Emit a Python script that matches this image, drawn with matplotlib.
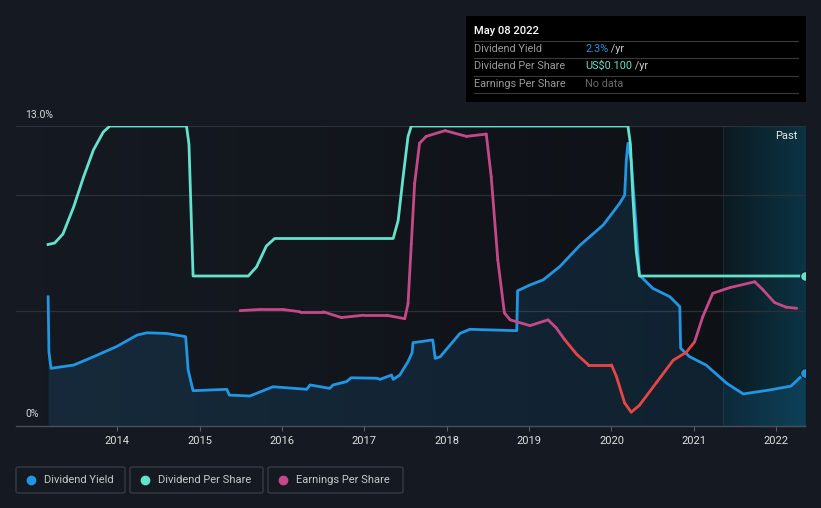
import numpy as np
import matplotlib
matplotlib.use("Agg")
import matplotlib.pyplot as plt
from matplotlib.collections import LineCollection
from matplotlib.patches import Rectangle, FancyBboxPatch
import matplotlib.transforms as mtransforms
import matplotlib.colors as mcolors

plt.rcParams['font.family'] = ['Roboto', 'DejaVu Sans']

# --- data ---
yield_years = [2013.16, 2013.17, 2013.195, 2013.47, 2013.71, 2013.99, 2014.24, 2014.36, 2014.60,
               2014.83, 2014.86, 2014.92, 2015.33, 2015.36, 2015.61, 2015.89, 2016.30, 2016.34,
               2016.58, 2016.62, 2016.78, 2016.84, 2017.15, 2017.19, 2017.33, 2017.35, 2017.43,
               2017.53, 2017.58, 2017.59, 2017.83, 2017.86, 2017.92, 2018.16, 2018.28, 2018.85,
               2018.86, 2019.01, 2019.17, 2019.37, 2019.62, 2019.90, 2020.10, 2020.16, 2020.18,
               2020.20, 2020.24, 2020.30, 2020.34, 2020.50, 2020.71, 2020.83, 2020.84, 2020.95,
               2021.15, 2021.40, 2021.60, 2021.92, 2022.18, 2022.35]
yield_pct = [5.6, 3.2, 2.50, 2.64, 3.0, 3.44, 3.94, 4.04, 4.01,
             3.87, 2.43, 1.53, 1.59, 1.34, 1.30, 1.70, 1.59, 1.78,
             1.63, 1.78, 1.92, 2.09, 2.07, 2.02, 2.21, 2.02, 2.21,
             2.79, 3.18, 3.61, 3.73, 2.93, 3.0, 4.01, 4.19, 4.13,
             5.86, 6.11, 6.33, 6.90, 7.84, 8.71, 9.65, 10.0, 11.5,
             12.25, 11.5, 8.64, 6.54, 5.97, 5.60, 5.17, 3.37, 3.0,
             2.64, 1.85, 1.39, 1.56, 1.73, 2.3]

dps_years = [2013.16, 2013.24, 2013.34, 2013.47, 2013.59, 2013.71, 2013.83, 2013.91, 2014.84,
             2014.87, 2014.92, 2015.59, 2015.69, 2015.81, 2015.91, 2017.35, 2017.41, 2017.47,
             2017.53, 2017.57, 2020.20, 2020.23, 2020.26, 2020.30, 2020.34, 2022.35]
dps = [0.121, 0.122, 0.128, 0.146, 0.166, 0.184, 0.196, 0.200, 0.200,
       0.188, 0.100, 0.100, 0.106, 0.120, 0.125, 0.125, 0.137, 0.166,
       0.193, 0.200, 0.200, 0.188, 0.153, 0.117, 0.100, 0.100]

eps_years = [2015.49, 2015.73, 2016.01, 2016.22, 2016.50, 2016.72, 2016.99, 2017.27, 2017.49,
             2017.53, 2017.57, 2017.61, 2017.67, 2017.75, 2017.98, 2018.24, 2018.48, 2018.54,
             2018.62, 2018.70, 2018.77, 2019.01, 2019.23, 2019.33, 2019.43, 2019.58, 2019.72,
             2020.00, 2020.06, 2020.16, 2020.24, 2020.34, 2020.55, 2020.75, 2020.91, 2021.01,
             2021.11, 2021.23, 2021.44, 2021.74, 2021.84, 2021.98, 2022.12, 2022.25]
eps = [0.100, 0.101, 0.101, 0.099, 0.099, 0.094, 0.096, 0.096, 0.093,
       0.106, 0.158, 0.210, 0.245, 0.251, 0.256, 0.251, 0.253, 0.216,
       0.144, 0.098, 0.092, 0.087, 0.092, 0.085, 0.075, 0.062, 0.053,
       0.053, 0.043, 0.020, 0.012, 0.018, 0.038, 0.057, 0.064, 0.073,
       0.095, 0.115, 0.120, 0.125, 0.118, 0.107, 0.103, 0.102]

year_ticks = list(range(2014, 2023))
eps_red_below = 0.074

# --- colours ---
BG = '#151a22'
BLUE = '#2196e3'
TEAL = '#64e2cc'
PINK = '#c44986'
RED = '#e84545'

W, H = 821, 508
fig = plt.figure(figsize=(W / 100, H / 100), dpi=100, facecolor=BG)

def fx(px):
    return px / W

def fy(py):
    return 1 - py / H

ax = fig.add_axes([fx(16), fy(426), fx(805) - fx(16), fy(126) - fy(426)])
ax.set_facecolor(BG)
xmin, xmax = 2012.77, 2022.35
past_start = 2021.35
ax.set_xlim(xmin, xmax)
ax.set_ylim(0, 13)

# background gradient and "past" band
c0 = np.array(mcolors.to_rgb('#151a22'))
c1 = np.array(mcolors.to_rgb('#0e1116'))
t = np.linspace(0, 1, 256)[None, :, None]
grad = c0 + (c1 - c0) * t
ax.imshow(grad, extent=(2013.1, past_start, 0, 13), aspect='auto', zorder=0, interpolation='bilinear')
p0 = np.array(mcolors.to_rgb('#0c1a21'))
p1 = np.array(mcolors.to_rgb('#0b3444'))
grad2 = p0 + (p1 - p0) * t
ax.imshow(grad2, extent=(past_start, xmax, 0, 13), aspect='auto', zorder=0, interpolation='bilinear')
ax.axvline(past_start, color='#1a2a33', lw=0.8, zorder=0.5)
ax.set_xlim(xmin, xmax)
ax.set_ylim(0, 13)

for g in (5, 10, 13):
    ax.axhline(g, color='#2c3139', lw=0.9, zorder=1)

for s in ('top', 'right', 'left'):
    ax.spines[s].set_visible(False)
ax.spines['bottom'].set_color('#4b5058')
ax.spines['bottom'].set_linewidth(1.0)
ax.set_yticks([])
ax.set_xticks(year_ticks)
ax.set_xticklabels([str(y) for y in year_ticks])
ax.tick_params(axis='x', colors='#5a5f66', length=3.5, width=0.8, pad=4,
               labelcolor='#e0e0e0', labelsize=8)

# dividend yield
ax.fill_between(yield_years, yield_pct, 0, color=BLUE, alpha=0.13, lw=0, zorder=2)
ax.plot(yield_years, yield_pct, color=BLUE, lw=2, zorder=3, solid_joinstyle='round')
ax.plot([yield_years[-1]], [yield_pct[-1]], 'o', color=BLUE, ms=7, mec=BG, mew=0.8, zorder=6)

# y labels
blend = mtransforms.blended_transform_factory(ax.transAxes, ax.transData)
ax.annotate('13.0%', xy=(0.012, 13), xycoords=blend, xytext=(0, 6), textcoords='offset pixels',
            color='#d8d8d8', fontsize=7.5, ha='left', va='bottom')
ax.annotate('0%', xy=(0.012, 0), xycoords=blend, xytext=(0, 7), textcoords='offset pixels',
            color='#d8d8d8', fontsize=7.5, ha='left', va='bottom')
ax.text(0.99, 12.55, 'Past', transform=blend, color='#e8e8e8', fontsize=8, ha='right', va='center')

# dividend per share
ax2 = ax.twinx()
ax2.set_ylim(0, 0.2)
ax2.axis('off')
ax2.plot(dps_years, dps, color=TEAL, lw=2, zorder=4, solid_joinstyle='round')
ax2.plot([dps_years[-1]], [dps[-1]], 'o', color=TEAL, ms=7, mec=BG, mew=0.8, zorder=6)

# earnings per share, red where low
ax3 = ax.twinx()
ax3.set_ylim(0, 0.26)
ax3.axis('off')
pts = np.column_stack([eps_years, eps])
segs = np.stack([pts[:-1], pts[1:]], axis=1)
mids = (np.array(eps[:-1]) + np.array(eps[1:])) / 2
cols = [RED if m < eps_red_below else PINK for m in mids]
lc = LineCollection(segs, colors=cols, linewidths=2, capstyle='round', joinstyle='round', zorder=3)
ax3.add_collection(lc)
ax3.set_xlim(xmin, xmax)

# tooltip box
fig.add_artist(Rectangle((fx(466), fy(102)), fx(806) - fx(466), fy(16) - fy(102),
                         transform=fig.transFigure, facecolor='#000000', edgecolor='none'))
fig.text(fx(474), fy(31), 'May 08 2022', color='#ffffff', fontsize=8, va='center', weight='medium')
for ly in (41, 58, 76, 93):
    fig.add_artist(plt.Line2D([fx(474), fx(798)], [fy(ly), fy(ly)], transform=fig.transFigure,
                              color='#3a3a3a', lw=0.8))
rows = [('Dividend Yield', '2.3%', BLUE, ' /yr', 49),
        ('Dividend Per Share', 'US$0.100', TEAL, ' /yr', 66),
        ('Earnings Per Share', 'No data', '#6a6a6a', '', 84)]
for label, val, col, unit, ry in rows:
    fig.text(fx(474), fy(ry), label, color='#9a9a9a', fontsize=7.8, va='center')
    tv = fig.text(fx(585), fy(ry), val, color=col, fontsize=7.8, va='center')
    if unit:
        fig.canvas.draw()
        bb = tv.get_window_extent()
        fig.text(bb.x1 / W, fy(ry), unit, color='#c8c8c8', fontsize=7.8, va='center')

# legend boxes
legend_items = [('Dividend Yield', BLUE, 16, 125), ('Dividend Per Share', TEAL, 130, 263),
                ('Earnings Per Share', PINK, 268, 403)]
for name, col, x0, x1 in legend_items:
    fig.add_artist(FancyBboxPatch((fx(x0), fy(493)), fx(x1) - fx(x0), fy(467) - fy(493),
                                  boxstyle='round,pad=0,rounding_size=0.003',
                                  transform=fig.transFigure, facecolor=BG, edgecolor='#3a3f47', lw=0.9))
    fig.add_artist(plt.Line2D([fx(x0 + 15)], [fy(480)], marker='o', ms=6, color=col,
                              transform=fig.transFigure, lw=0))
    fig.text(fx(x0 + 28), fy(480), name, color='#c8c8c8', fontsize=8, va='center')

fig.savefig('out.png', dpi=100, facecolor=BG)
